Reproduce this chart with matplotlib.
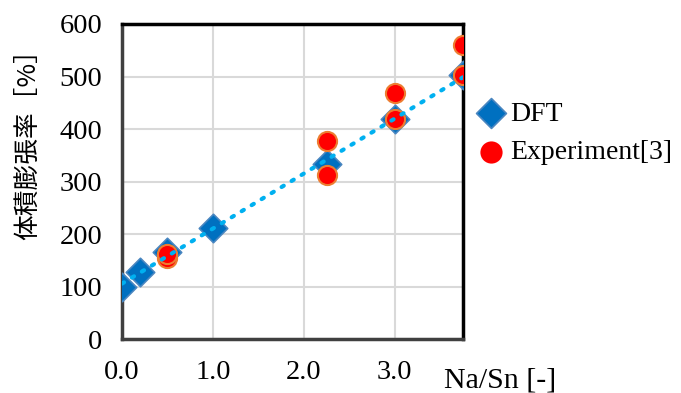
import matplotlib.pyplot as plt
import numpy as np

# Na/Sn ratio and volume expansion [%]
dft_x = [0.0, 0.2, 0.5, 1.0, 2.25, 3.0, 3.75]
dft_y = [100, 128, 166, 212, 333, 419, 503]
exp_x = [0.5, 0.5, 2.25, 2.25, 3.0, 3.0, 3.75, 3.75]
exp_y = [155, 162, 312, 377, 419, 469, 503, 560]
xticks = [0.0, 1.0, 2.0, 3.0]
xticklabels = ['0.0', '1.0', '2.0', '3.0']
yticks = [0, 100, 200, 300, 400, 500, 600]

plt.rcParams['font.family'] = ['Liberation Serif', 'Noto Sans CJK JP']

fig = plt.figure(figsize=(6.81, 3.93), dpi=100)
ax = fig.add_axes([0.179, 0.137, 0.501, 0.802])

ax.scatter(dft_x, dft_y, marker='D', s=210, color='#0070C0', edgecolor='#4A86C0',
           linewidth=1.2, zorder=3, label='DFT')
ax.scatter(exp_x, exp_y, marker='o', s=190, color='#FF0000', edgecolor='#ED7D31',
           linewidth=1.5, zorder=4, label='Experiment[3]')

# linear trendline for DFT
k, b = np.polyfit(dft_x, dft_y, 1)
tx = np.array([0.0, 3.75])
ax.plot(tx, k * tx + b, color='#00B0F0', linewidth=3, linestyle=(0, (0.6, 2.2)),
        dash_capstyle='round', zorder=5)

ax.set_xlim(0, 3.75)
ax.set_ylim(0, 600)
ax.set_xticks(xticks)
ax.set_xticklabels(xticklabels)
ax.set_yticks(yticks)
ax.tick_params(length=0, labelsize=20.5)
ax.tick_params(axis='y', pad=14)
ax.tick_params(axis='x', pad=15)
ax.grid(True, color='#D9D9D9', linewidth=1.5)
ax.set_axisbelow(True)
for s in ax.spines.values():
    s.set_linewidth(2.5)
    s.set_color('black')
ax.spines['left'].set_color('#404040')
ax.spines['bottom'].set_color('#404040')

ax.text(1.11, -0.13, 'Na/Sn [-]', transform=ax.transAxes, fontsize=21.5,
        ha='center', va='center')
fig.text(0.041, 0.649, '体積膨張率［%］', rotation=90, fontsize=18.5,
         ha='center', va='center', family=['Noto Sans CJK JP', 'DejaVu Sans'])

leg = ax.legend(loc='upper left', bbox_to_anchor=(1.056, 0.755), frameon=False, fontsize=20,
                handlelength=0.6, handletextpad=0.4, labelspacing=0.46,
                borderpad=0, borderaxespad=0, markerscale=1.05)
leg.legend_handles[1].set_edgecolor('#FF0000')

plt.savefig('out.png', dpi=100)
